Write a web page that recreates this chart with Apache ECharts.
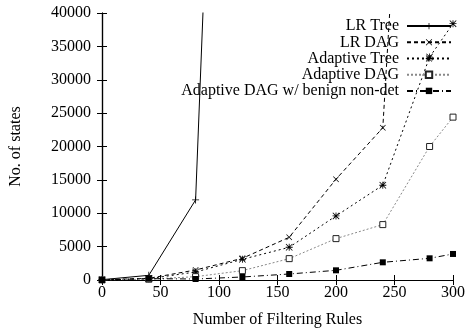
<!DOCTYPE html>
<html>
<head>
<meta charset="utf-8">
<script src="https://cdn.jsdelivr.net/npm/echarts@6/dist/echarts.min.js"></script>
<style>
    html, body { margin: 0; padding: 0; background: #fff; }
    #chart { width: 465px; height: 329px; }
</style>
</head>
<body>
<div id="chart"></div>
<script>
    // rule counts (x) and number of states per variant
    var rules = [0, 40, 80, 120, 160, 200, 240, 280, 300];
    var lrTree = [50, 700, 12000, 190000];
    var lrDag = [50, 250, 1500, 3250, 6400, 15100, 22800, 140000];
    var adaptiveTree = [30, 200, 1200, 3100, 4900, 9600, 14200, 33400, 38400];
    var adaptiveDag = [20, 120, 500, 1400, 3200, 6200, 8300, 20000, 24400];
    var benignDag = [0, 200, 150, 450, 900, 1450, 2650, 3250, 3900];

    var FONT = '"Liberation Serif", "Times New Roman", serif';

    var plusPath = 'path://M0,4.4H10V5.6H0ZM4.4,0H5.6V10H4.4Z';
    var crossPath = 'path://M0,0.8L0.8,0L10,9.2L9.2,10ZM9.2,0L10,0.8L0.8,10L0,9.2Z';
    var starPath = 'path://M0,4.4H10V5.6H0ZM4.4,0H5.6V10H4.4ZM0,0.8L0.8,0L10,9.2L9.2,10ZM9.2,0L10,0.8L0.8,10L0,9.2Z';

    function pairs(vals) {
        return vals.map(function (v, i) { return [rules[i], v]; });
    }

    function mkSeries(name, vals, lineType, lineColor, symbol, size, itemStyle) {
        return {
            name: name,
            type: 'line',
            data: pairs(vals),
            symbol: symbol,
            symbolSize: size,
            showAllSymbol: true,
            clip: true,
            animation: false,
            lineStyle: { color: lineColor, width: 1, type: lineType },
            itemStyle: itemStyle
        };
    }

    var axisLine = { show: true, lineStyle: { color: '#000', width: 1.2 } };
    var tick = { show: true, inside: true, length: 5, lineStyle: { color: '#000', width: 1 } };

    var chart = echarts.init(document.getElementById('chart'), null, { renderer: 'canvas' });
    chart.setOption({
        animation: false,
        textStyle: { fontFamily: FONT },
        grid: { left: 102, right: 12, top: 13, bottom: 49, containLabel: false, outerBoundsMode: 'none' },
        legend: {
            orient: 'vertical',
            right: 13,
            top: 18,
            padding: 0,
            align: 'right',
            itemWidth: 44,
            itemHeight: 8,
            itemGap: 0,
            selectedMode: false,
            textStyle: { fontFamily: FONT, fontSize: 16, color: '#000', lineHeight: 16.2, padding: [0, 3, 0, 0] },
            data: ['LR Tree', 'LR DAG', 'Adaptive Tree', 'Adaptive DAG', 'Adaptive DAG w/ benign non-det']
        },
        xAxis: [{
            type: 'value',
            min: 0, max: 300, interval: 50,
            name: 'Number of Filtering Rules',
            nameLocation: 'middle',
            nameGap: 32,
            nameTextStyle: { fontFamily: FONT, fontSize: 16, color: '#000' },
            axisLine: axisLine,
            axisTick: tick,
            splitLine: { show: false },
            axisLabel: { fontFamily: FONT, fontSize: 16, color: '#000', margin: 5 }
        }, {
            type: 'value',
            position: 'top',
            min: 0, max: 300, interval: 50,
            axisLine: axisLine,
            axisTick: tick,
            splitLine: { show: false },
            axisLabel: { show: false }
        }],
        yAxis: [{
            type: 'value',
            min: 0, max: 40000, interval: 5000,
            name: 'No. of states',
            nameLocation: 'middle',
            nameGap: 78,
            nameRotate: 90,
            nameTextStyle: { fontFamily: FONT, fontSize: 16, color: '#000' },
            axisLine: axisLine,
            axisTick: tick,
            splitLine: { show: false },
            axisLabel: {
                fontFamily: FONT, fontSize: 16, color: '#000', margin: 11,
                formatter: function (v) { return String(v); }
            }
        }, {
            type: 'value',
            position: 'right',
            min: 0, max: 40000, interval: 5000,
            axisLine: axisLine,
            axisTick: tick,
            splitLine: { show: false },
            axisLabel: { show: false }
        }],
        series: [
            mkSeries('LR Tree', lrTree, 'solid', '#000', plusPath, 7, { color: '#000' }),
            mkSeries('LR DAG', lrDag, [4, 3], '#000', crossPath, 6, { color: '#000' }),
            mkSeries('Adaptive Tree', adaptiveTree, [2, 3], '#000', starPath, 7, { color: '#000' }),
            mkSeries('Adaptive DAG', adaptiveDag, [2, 2], '#888', 'rect', 6,
                { color: '#fff', borderColor: '#222', borderWidth: 1 }),
            mkSeries('Adaptive DAG w/ benign non-det', benignDag, [6, 3, 1, 3], '#000', 'rect', 6, { color: '#000' })
        ]
    });
</script>
</body>
</html>
